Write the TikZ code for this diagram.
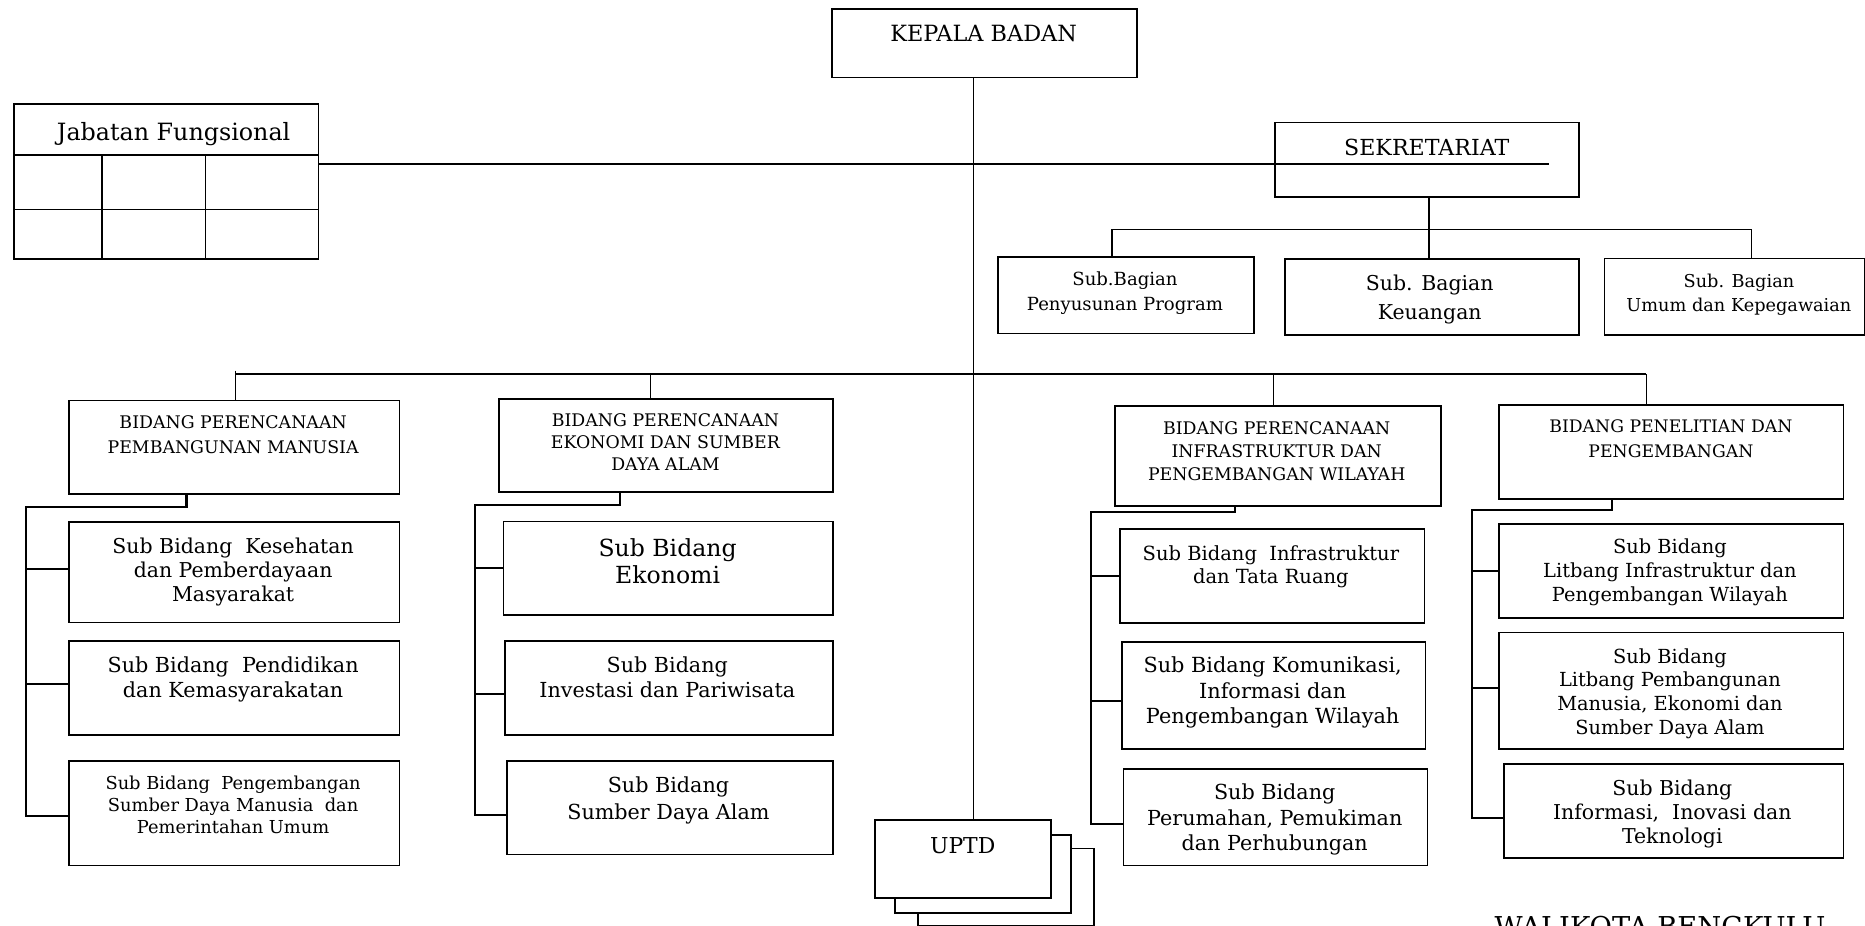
\documentclass[tikz,border=0pt]{standalone}
\usepackage{fontspec}
\setmainfont{DejaVu Serif}
\newcommand{\orgfs}[2]{\fontsize{#1}{#2}\selectfont}
\tikzset{
  box/.style={draw, line width=1.4pt, anchor=north west, inner sep=0pt},
  txt/.style={anchor=north, align=center, inner sep=0pt},
  conn/.style={line width=1.1pt},
  bus/.style={line width=1.7pt},
}
\begin{document}
\begin{tikzpicture}[x=1pt, y=-1pt]
\useasboundingbox (0,0) rectangle (1568,778.5);

% top level
\node[box, minimum width=256pt, minimum height=57.5pt] (kepala) at (699,7) {};
\node[txt, font=\orgfs{18.8}{22}] (kepalat) at (827,21.2) {KEPALA BADAN};

\node[box, minimum width=256pt, minimum height=130.7pt] (jabfung) at (11,86.5) {};
\node[txt, font=\orgfs{20}{23}] (jabfungt) at (146,102.4) {Jabatan Fungsional};
\draw[conn] ([yshift=-43.8pt]jabfung.north west) -- ([yshift=-43.8pt]jabfung.north east);
\draw[conn] ([yshift=-89.5pt]jabfung.north west) -- ([yshift=-89.5pt]jabfung.north east);
\draw[conn] ([xshift=74.8pt,yshift=-43.8pt]jabfung.north west) -- ([xshift=74.8pt]jabfung.south west);
\draw[conn] ([xshift=162pt,yshift=-43.8pt]jabfung.north west) -- ([xshift=162pt]jabfung.south west);

\node[box, minimum width=255.6pt, minimum height=62.5pt] (sekret) at (1071.2,102.3) {};
\node[txt, font=\orgfs{18.6}{22}] (sekrett) at (1199.5,116.5) {SEKRETARIAT};

% sub bagian
\node[box, minimum width=215pt, minimum height=64.5pt] (sbprog) at (838.6,215.2) {};
\node[txt, font=\orgfs{15.2}{20.7}] (sbprogt) at (945.8,228.7) {Sub.Bagian\\Penyusunan Program};
\node[box, minimum width=247.2pt, minimum height=63.9pt] (sbkeu) at (1079.7,217.2) {};
\node[txt, font=\orgfs{17.2}{23.8}] (sbkeut) at (1202,231.3) {Sub. Bagian\\Keuangan};
\node[box, minimum width=218.5pt, minimum height=64.5pt] (sbumum) at (1348.4,216.6) {};
\node[txt, font=\orgfs{14.9}{20.1}] (sbumumt) at (1462,230.3) {Sub. Bagian\\Umum dan Kepegawaian};

% bidang
\node[box, minimum width=278.1pt, minimum height=78.7pt] (bpm) at (57.2,336) {};
\node[txt, font=\orgfs{14.6}{20.6}] (bpmt) at (196,349.5) {BIDANG PERENCANAAN\\PEMBANGUNAN MANUSIA};
\node[box, minimum width=280.9pt, minimum height=78.7pt] (bpe) at (418.8,334.5) {};
\node[txt, font=\orgfs{14.6}{18.3}] (bpet) at (559.5,347.7) {BIDANG PERENCANAAN\\EKONOMI DAN SUMBER\\DAYA ALAM};
\node[box, minimum width=273.8pt, minimum height=84.1pt] (bpi) at (937,340.6) {};
\node[txt, font=\orgfs{14.6}{19.2}] (bpit) at (1073.4,354.4) {BIDANG PERENCANAAN\\INFRASTRUKTUR DAN\\PENGEMBANGAN WILAYAH};
\node[box, minimum width=290pt, minimum height=79pt] (bpp) at (1259.3,340) {};
\node[txt, font=\orgfs{14.5}{21}] (bppt) at (1404.8,352.9) {BIDANG PENELITIAN DAN\\PENGEMBANGAN};

% sub bidang
\node[box, minimum width=278.1pt, minimum height=84.6pt] (kes) at (57.2,438) {};
\node[txt, font=\orgfs{17.2}{20.4}] (kest) at (196,451.8) {Sub Bidang~ Kesehatan\\dan Pemberdayaan\\Masyarakat};
\node[box, minimum width=278.1pt, minimum height=78.8pt] (pend) at (57.2,538.3) {};
\node[txt, font=\orgfs{17.4}{20.6}] (pendt) at (196,552.2) {Sub Bidang~ Pendidikan\\dan Kemasyarakatan};
\node[box, minimum width=278.1pt, minimum height=88.1pt] (sdm) at (57.2,638.9) {};
\node[txt, font=\orgfs{15}{18.5}] (sdmt) at (196,652.5) {Sub Bidang~ Pengembangan\\Sumber Daya Manusia~ dan\\Pemerintahan Umum};

\node[box, minimum width=277.2pt, minimum height=78.8pt] (eko) at (422.5,437.7) {};
\node[txt, font=\orgfs{19.8}{23.3}] (ekot) at (561.3,452.3) {Sub Bidang\\Ekonomi};
\node[box, minimum width=275.8pt, minimum height=78.8pt] (inv) at (423.9,538.3) {};
\node[txt, font=\orgfs{17.4}{20.6}] (invt) at (561,552.2) {Sub Bidang\\Investasi dan Pariwisata};
\node[box, minimum width=274pt, minimum height=78.7pt] (sda) at (425.7,638.9) {};
\node[txt, font=\orgfs{17.4}{23.3}] (sdat) at (562,652.5) {Sub Bidang\\Sumber Daya Alam};

\node[box, minimum width=256pt, minimum height=78.9pt] (infra) at (940.8,444.1) {};
\node[txt, font=\orgfs{16.4}{18.8}] (infrat) at (1068.5,458.8) {Sub Bidang~ Infrastruktur\\dan Tata Ruang};
\node[box, minimum width=255.5pt, minimum height=90.4pt] (kom) at (942.4,538.8) {};
\node[txt, font=\orgfs{17.5}{21.1}] (komt) at (1070,552.3) {Sub Bidang Komunikasi,\\Informasi dan\\Pengembangan Wilayah};
\node[box, minimum width=255.5pt, minimum height=81.4pt] (rum) at (944,645.6) {};
\node[txt, font=\orgfs{17.4}{21.2}] (rumt) at (1071.7,659) {Sub Bidang\\Perumahan, Pemukiman\\dan Perhubungan};

\node[box, minimum width=290pt, minimum height=78.9pt] (litinfra) at (1259.3,439.9) {};
\node[txt, font=\orgfs{16.3}{20.2}] (litinfrat) at (1404,453.1) {Sub Bidang\\Litbang Infrastruktur dan\\Pengembangan Wilayah};
\node[box, minimum width=290pt, minimum height=98pt] (litpemb) at (1259.3,531.2) {};
\node[txt, font=\orgfs{16.3}{19.9}] (litpembt) at (1404,545.1) {Sub Bidang\\Litbang Pembangunan\\Manusia, Ekonomi dan\\Sumber Daya Alam};
\node[box, minimum width=285.7pt, minimum height=78.9pt] (inov) at (1263.6,641.7) {};
\node[txt, font=\orgfs{17.2}{20.4}] (inovt) at (1406,655.5) {Sub Bidang\\Informasi,~ Inovasi dan\\Teknologi};

% uptd stack
\node[box, fill=white, minimum width=148.2pt, minimum height=65pt] (uptdc) at (771,712.7) {};
\node[box, fill=white, minimum width=147.6pt, minimum height=65.5pt] (uptdb) at (752,701.5) {};
\node[box, fill=white, minimum width=148pt, minimum height=65.5pt] (uptd) at (735,688.9) {};
\node[txt, font=\orgfs{18.4}{22}] (uptdt) at (809.4,703.8) {UPTD};

\node[txt, font=\orgfs{23}{27}] (walikota) at (1395.6,770) {WALIKOTA BENGKULU};

% lines from kepala
\coordinate (spine) at (818.3,314.5);
\draw[conn] (kepala.south -| spine) -- (uptd.north -| spine);
\coordinate (jend) at (1302,137.9);
\draw[conn] (jabfung.east |- jend) -- (jend);

% sekretariat
\coordinate (sbus) at (1201.5,192.8);
\coordinate (sbl) at (934.8,192.8);
\coordinate (sbr) at (1472.7,192.8);
\draw[conn] (sekret.south -| sbus) -- (sbkeu.north -| sbus);
\draw[conn] (sbprog.north -| sbl) -- (sbl) -- (sbr) -- (sbumum.north -| sbr);

% main bus
\coordinate (mbl) at (198,314.5);
\coordinate (mbr) at (1384,314.5);
\coordinate (d2) at (547,314.5);
\coordinate (d3) at (1070.7,314.5);
\draw[bus] (mbl) -- (mbr);
\draw[conn] ([yshift=3pt]mbl) -- (bpm.north -| mbl);
\draw[conn] (d2) -- (bpe.north -| d2);
\draw[conn] (d3) -- (bpi.north -| d3);
\draw[conn] (mbr) -- (bpp.north -| mbr);

% bidang 1
\coordinate (t1) at (156.8,425.9);
\coordinate (r1) at (22.1,425.9);
\coordinate (kesb) at ([yshift=2.7pt]kes.west);
\coordinate (pendb) at ([yshift=3pt]pend.west);
\coordinate (sdmb) at ([yshift=-2pt]sdm.west);
\draw[bus] (bpm.south -| t1) -- (t1) -- (r1) -- (r1 |- sdmb) -- (sdmb);
\draw[bus] (kesb -| r1) -- (kesb);
\draw[bus] (pendb -| r1) -- (pendb);

% bidang 2
\coordinate (t2) at (521.2,424.4);
\coordinate (r2) at (399,424.4);
\coordinate (ekob) at (eko.west);
\coordinate (invb) at ([yshift=-5pt]inv.west);
\coordinate (sdab) at ([yshift=-6.6pt]sda.west);
\draw[bus] (bpe.south -| t2) -- (t2) -- (r2) -- (r2 |- sdab) -- (sdab);
\draw[bus] (ekob -| r2) -- (ekob);
\draw[bus] (invb -| r2) -- (invb);

% bidang 3
\coordinate (t3) at (1038.5,430.1);
\coordinate (r3) at (917.1,430.1);
\coordinate (infrab) at (infra.west);
\coordinate (komb) at ([yshift=-5pt]kom.west);
\coordinate (rumb) at ([yshift=-5.5pt]rum.west);
\draw[bus] (bpi.south -| t3) -- (t3) -- (r3) -- (r3 |- rumb) -- (rumb);
\draw[bus] (infrab -| r3) -- (infrab);
\draw[bus] (komb -| r3) -- (komb);

% bidang 4
\coordinate (t4) at (1355.3,428.6);
\coordinate (r4) at (1237.8,428.6);
\coordinate (litinfrab) at (litinfra.west);
\coordinate (litpembb) at ([yshift=2.8pt]litpemb.west);
\coordinate (inovb) at ([yshift=-6pt]inov.west);
\draw[bus] (bpp.south -| t4) -- (t4) -- (r4) -- (r4 |- inovb) -- (inovb);
\draw[bus] (litinfrab -| r4) -- (litinfrab);
\draw[bus] (litpembb -| r4) -- (litpembb);

\end{tikzpicture}
\end{document}
